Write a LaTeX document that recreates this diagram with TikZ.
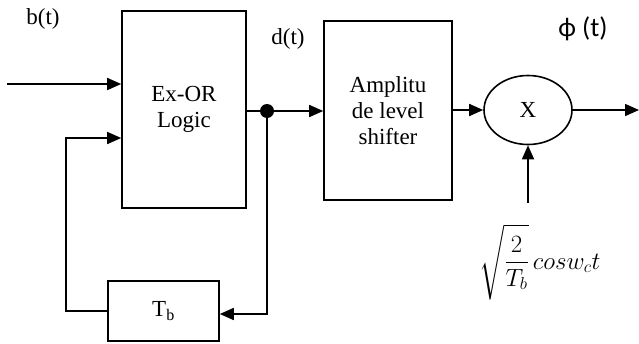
\documentclass[tikz,border=0pt]{standalone}
\usepackage{amsmath}
\usepackage{fontspec}
\setmainfont{Liberation Serif}
\newfontfamily\calib{Carlito}
\usetikzlibrary{arrows.meta,shapes.geometric}
\begin{document}
\begin{tikzpicture}[x=1pt,y=-1pt,
  every node/.style={font=\fontsize{23}{26}\selectfont},
  blk/.style={draw,line width=1.6pt,rectangle,inner sep=0pt,align=center},
  wire/.style={line width=1.6pt},
  arr/.style={wire,-{Triangle[length=14pt,width=12pt]}},
  lbl/.style={inner sep=0pt}]
\useasboundingbox (0,0) rectangle (639,343);
\node[blk,minimum width=124pt,minimum height=197pt] (xor) at (184,109.5) {Ex-OR\\Logic};
\node[blk,minimum width=128pt,minimum height=179pt] (amp) at (388,110.5) {Amplitu\\de level\\shifter};
\node[blk,minimum width=111pt,minimum height=60pt] (tb) at (163.5,311) {T\textsubscript{b}};
\node[draw,line width=1.6pt,ellipse,minimum width=88pt,minimum height=69pt,inner sep=0pt] (mul) at (528,110) {X};
\coordinate (in) at (7,84);
\coordinate (out) at (639,110);
\coordinate (osc) at (528,203);
\coordinate (fb) at (66,311);
\coordinate (fbt) at (66,138);
\coordinate (dot) at (267,111);
\coordinate (dlow) at (267,314);
\fill (dot) circle (7pt);
\draw[arr] (in) -- (in -| xor.west);
\draw[arr] (tb.west |- fb) -- (fb) -- (fbt) -- (fbt -| xor.west);
\draw[wire] (xor.east |- dot) -- (dot);
\draw[arr] (dot) -- (dot -| amp.west);
\draw[arr] (dot) -- (dlow) -- (dlow -| tb.east);
\draw[arr] (amp.east |- mul.west) -- (mul.west);
\draw[arr] (mul.east) -- (out);
\draw[arr] (osc) -- (mul.south);
\node[lbl] (bt) at (43,19) {b(t)};
\node[lbl] (dt) at (288,39) {d(t)};
\node[lbl,font=\calib\fontsize{27}{30}\selectfont] (phi) at (583,29) {ϕ (t)};
\node[lbl,font=\fontsize{26}{30}\selectfont] (eq) at (540,262) {$\sqrt{\dfrac{\rule{0pt}{20pt}2}{T_b\rule[-9pt]{0pt}{9pt}}}\,cosw_ct$};
\end{tikzpicture}
\end{document}
